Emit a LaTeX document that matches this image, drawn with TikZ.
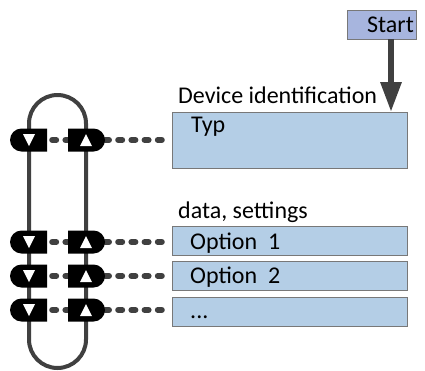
\documentclass[tikz,border=0pt]{standalone}
\usepackage{fontspec}
\setmainfont{Carlito}
\usetikzlibrary{arrows.meta}
\definecolor{boxblue}{RGB}{180,206,230}
\definecolor{startblue}{RGB}{167,181,222}
\definecolor{wire}{RGB}{64,64,64}
\definecolor{rim}{RGB}{120,120,120}
\begin{document}
\begin{tikzpicture}[x=1pt,y=1pt,
  field/.style={draw=rim,fill=boxblue,line width=1pt,minimum width=235pt,anchor=north west,inner sep=0pt},
  caption/.style={anchor=base west,inner sep=0pt,font=\fontsize{24}{28}\selectfont},
  tap/.style={wire,line width=6pt,line cap=round,dash pattern=on 4pt off 9.2pt}]
\useasboundingbox (0,0) rectangle (425,-370);
% loop
\draw [wire,line width=4pt] (29,-123.5) -- (29,-339.5) arc (180:360:28.5) -- (86,-123.5) arc (0:180:28.5) -- cycle;
% boxes
\node [field,minimum height=56pt] (typ) at (172,-112) {};
\node [field,minimum height=29pt] (opt1) at (172,-226) {};
\node [field,minimum height=29pt] (opt2) at (172,-261) {};
\node [field,minimum height=29pt] (more) at (172,-297) {};
\node [draw=rim,fill=startblue,line width=1pt,minimum width=69pt,minimum height=29pt,anchor=north west,inner sep=0pt] (start) at (347,-10) {};
% texts
\node [caption] (startlabel) at (367,-32) {Start};
\node [caption] (devid) at (178,-103) {Device identification};
\node [caption] (typlabel) at (191,-132) {Typ};
\node [caption] (settings) at (178,-218) {data, settings};
\node [caption] (opt1label) at (190,-249) {Option\ \ 1};
\node [caption] (opt2label) at (190,-283) {Option\ \ 2};
\node [caption] (morelabel) at (190,-318) {...};
% arrow
\coordinate (drop) at (391,-39);
\draw [wire,line width=6pt,-{Triangle[width=20pt,length=30pt]}] (drop) -- (drop |- typ.north);
% connectors
\foreach \y/\n in {-140/a,-242/b,-276/c,-310/d} {
  \coordinate (l\n) at (39,\y);
  \coordinate (e\n) at (162,\y);
  \draw [tap] (l\n) -- (e\n);
  \fill (21.5,\y+11.5) arc (90:270:11.5) -- (47,\y-11.5) -- (47,\y+11.5) -- cycle;
  \fill (68,\y+11.5) -- (93.5,\y+11.5) arc (90:-90:11.5) -- (68,\y-11.5) -- cycle;
  \fill [white] (23,\y+6) -- (35,\y+6) -- (29,\y-6) -- cycle;
  \fill [white] (80,\y-6) -- (92,\y-6) -- (86,\y+6) -- cycle;
}
\end{tikzpicture}
\end{document}
